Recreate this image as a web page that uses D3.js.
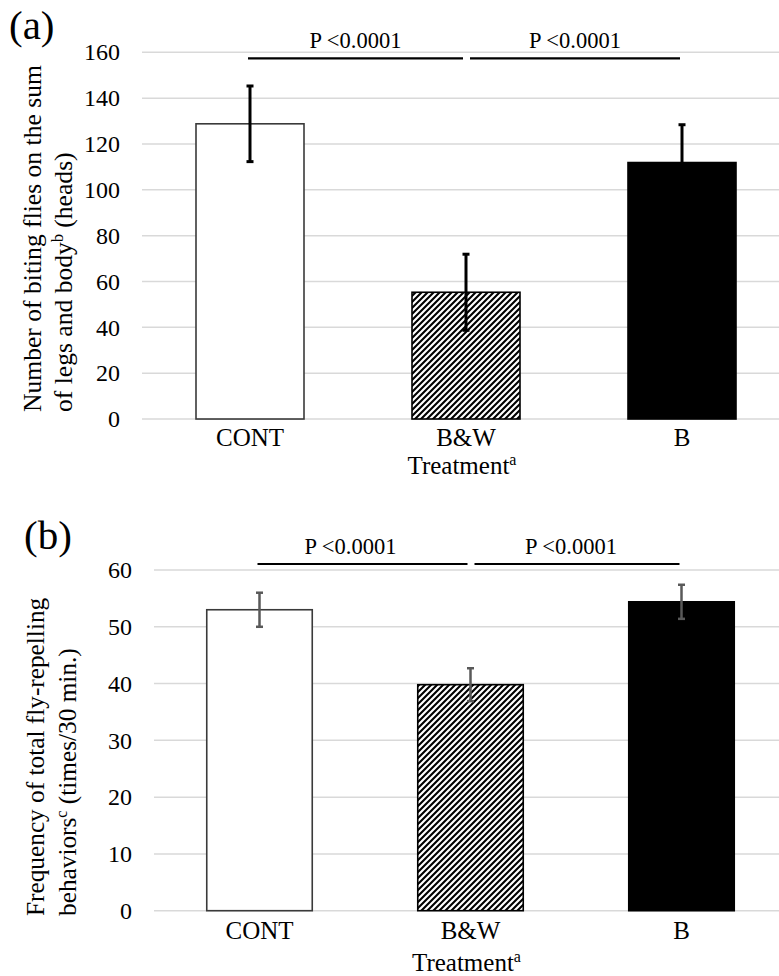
<!DOCTYPE html>
<html><head><meta charset="utf-8">
<script src="https://cdn.jsdelivr.net/npm/d3@7"></script>
<style>
html,body{margin:0;padding:0;background:#fff;}
svg{display:block;font-family:"Liberation Serif","Times New Roman",serif;}
</style></head>
<body>
<svg id="chart" width="779" height="976"></svg>
<script>
// ---------- data ----------
const categories = ["CONT", "B&W", "B"];
const bitingMeans = [128.8, 55.3, 111.9];
const bitingErrors = [16.5, 16.6, 16.5];
const repelMeans = [53.0, 39.8, 54.4];
const repelErrors = [3.0, 2.9, 3.0];
const ticksA = [0, 20, 40, 60, 80, 100, 120, 140, 160];
const ticksB = [0, 10, 20, 30, 40, 50, 60];
const comparisons = [["CONT", "B&W"], ["B&W", "B"]];
const pLabels = ["P <0.0001", "P <0.0001"];
const xTitle = "Treatment";
const xTitleSup = "a";

// ---------- drawing ----------
const svg = d3.select("#chart");
const W = 779;
const defs = svg.append("defs");
const pat = defs.append("pattern").attr("id", "hatch")
  .attr("patternUnits", "userSpaceOnUse").attr("width", 6).attr("height", 6);
pat.append("rect").attr("width", 6).attr("height", 6).attr("fill", "#fff");
pat.append("path").attr("d", "M-1.5,1.5 L1.5,-1.5 M0,6 L6,0 M4.5,7.5 L7.5,4.5")
  .attr("stroke", "#000").attr("stroke-width", 2.1);

const fills = ["#fff", "url(#hatch)", "#000"];
const strokes = ["#3a3a3a", "#000", "#000"];

function panel(cfg) {
  const g = svg.append("g");
  const x = d3.scaleBand().domain(categories).range([cfg.x0, cfg.x1]).paddingInner(0.5).paddingOuter(0.25);
  const y = d3.scaleLinear().domain([0, cfg.max]).range([cfg.yBottom, cfg.yTop]);

  // gridlines
  g.append("g").selectAll("line").data(cfg.ticks).join("line")
    .attr("x1", cfg.x0).attr("x2", W)
    .attr("y1", d => y(d)).attr("y2", d => y(d))
    .attr("stroke", "#d9d9d9").attr("stroke-width", 1.5);

  // tick labels via axis
  const ax = g.append("g").attr("transform", `translate(${cfg.tickX},0)`)
    .call(d3.axisLeft(y).tickValues(cfg.ticks).tickSize(0).tickPadding(0));
  ax.select(".domain").remove();
  ax.attr("font-family", null);
  ax.selectAll("text").attr("font-size", 24).attr("fill", "#000");

  // bars
  g.append("g").selectAll("rect").data(cfg.means).join("rect")
    .attr("x", (d, i) => x(categories[i]))
    .attr("width", x.bandwidth())
    .attr("y", d => y(d))
    .attr("height", d => y(0) - y(d))
    .attr("fill", (d, i) => fills[i])
    .attr("stroke", (d, i) => strokes[i])
    .attr("stroke-width", 1.6);

  // error bars
  const eb = g.append("g").attr("stroke", cfg.errColor).attr("stroke-width", cfg.errWidth);
  cfg.means.forEach((m, i) => {
    const cx = x(categories[i]) + x.bandwidth() / 2;
    const e = cfg.errors[i];
    eb.append("line").attr("x1", cx).attr("x2", cx).attr("y1", y(m + e)).attr("y2", y(m - e));
    eb.append("line").attr("x1", cx - 3.5).attr("x2", cx + 3.5).attr("y1", y(m + e)).attr("y2", y(m + e));
    eb.append("line").attr("x1", cx - 3.5).attr("x2", cx + 3.5).attr("y1", y(m - e)).attr("y2", y(m - e));
  });

  // category labels
  g.append("g").selectAll("text").data(categories).join("text")
    .attr("x", d => x(d) + x.bandwidth() / 2)
    .attr("y", cfg.catY)
    .attr("text-anchor", "middle").attr("font-size", 25).text(d => d);

  // x title
  const xt = g.append("text").attr("x", (x(categories[1]) + x.bandwidth() / 2) - 4)
    .attr("y", cfg.xTitleY).attr("text-anchor", "middle").attr("font-size", 25);
  xt.append("tspan").text(xTitle);
  xt.append("tspan").attr("font-size", 16).attr("dy", -9).text(xTitleSup);

  // comparisons
  comparisons.forEach((c, k) => {
    const a = x(c[0]) + x.bandwidth() / 2;
    const b = x(c[1]) + x.bandwidth() / 2;
    const xa = k === 0 ? a - 2 : a + 4;
    const xb = k === 0 ? b - 3 : b - 2;
    g.append("line").attr("x1", xa).attr("x2", xb)
      .attr("y1", cfg.pLineY).attr("y2", cfg.pLineY)
      .attr("stroke", "#000").attr("stroke-width", 2.2);
    g.append("text").attr("x", (xa + xb) / 2 + cfg.pTextDx[k]).attr("y", cfg.pTextY)
      .attr("text-anchor", "middle").attr("font-size", 22.5).text(pLabels[k]);
  });

  // y title (two lines, rotated)
  cfg.yTitle.forEach((ln, i) => {
    const t = g.append("text")
      .attr("transform", `translate(${cfg.yTitleX[i]},${cfg.yTitleStart}) rotate(-90)`)
      .attr("dy", "0.35em").attr("text-anchor", "start").attr("font-size", cfg.yTitleSize);
    ln.forEach(part => {
      const s = t.append("tspan").text(part.t);
      if (part.sup) s.attr("font-size", 16).attr("dy", -9);
      if (part.after) s.attr("dy", 9);
    });
  });

  // panel label
  g.append("text").attr("x", cfg.labelX).attr("y", cfg.labelY)
    .attr("font-size", 41).text(cfg.label);
}

panel({
  x0: 142, x1: 790, max: 160, yBottom: 419, yTop: 52.3, ticks: ticksA,
  means: bitingMeans, errors: bitingErrors, errColor: "#000", errWidth: 3,
  tickX: 120, catY: 446, xTitleY: 474, pLineY: 58.3, pTextY: 48, pTextDx: [0, 0],
  yTitle: [[{t: "Number of biting flies on the sum"}],
           [{t: "of legs and body"}, {t: "b", sup: true}, {t: " (heads)", after: true}]],
  yTitleX: [32, 63], yTitleStart: 412, yTitleSize: 25.6,
  label: "(a)", labelX: 9, labelY: 39
});

panel({
  x0: 154, x1: 787, max: 60, yBottom: 910.7, yTop: 570, ticks: ticksB,
  means: repelMeans, errors: repelErrors, errColor: "#595959", errWidth: 2.5,
  tickX: 132, catY: 939, xTitleY: 971, pLineY: 564, pTextY: 554, pTextDx: [-12, -6],
  yTitle: [[{t: "Frequency of total fly-repelling"}],
           [{t: "behaviors"}, {t: "c", sup: true}, {t: " (times/30 min.)", after: true}]],
  yTitleX: [35, 67], yTitleStart: 916, yTitleSize: 25.3,
  label: "(b)", labelX: 24, labelY: 549
});
</script>
</body></html>
